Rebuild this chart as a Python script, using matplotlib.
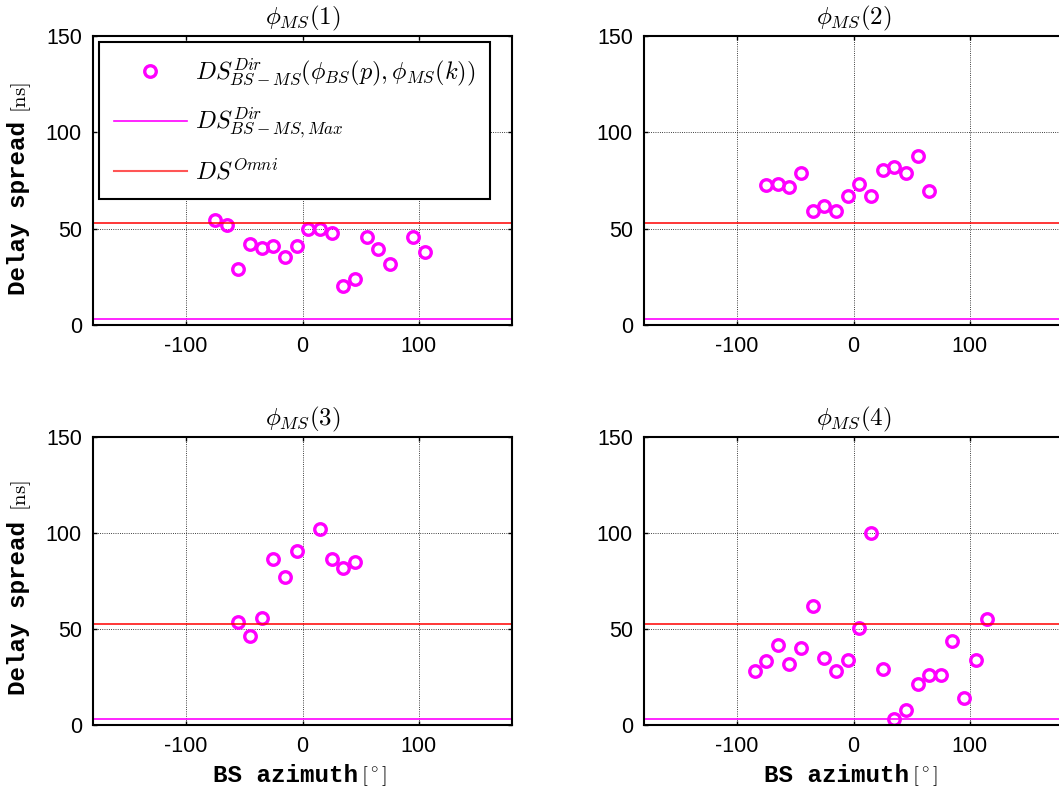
import matplotlib
matplotlib.use("Agg")
import matplotlib.pyplot as plt
from matplotlib.lines import Line2D

plt.rcParams['mathtext.fontset'] = 'cm'
plt.rcParams['axes.unicode_minus'] = False

# ---- data ----
az1 = [-75, -65, -55, -45, -35, -25, -15, -5, 5, 15, 25, 35, 45, 55, 65, 75, 95, 105]
ds1 = [54.5, 52, 29, 42, 40, 41, 35.5, 41, 49.6, 49.6, 48, 20, 23.7, 45.7, 39.4, 31.7, 45.8, 38]

az2 = [-75, -65, -55, -45, -35, -25, -15, -5, 5, 15, 25, 35, 45, 55, 65]
ds2 = [72.5, 73.2, 71.8, 78.7, 59.2, 61.8, 59.2, 67.1, 73.3, 67.1, 80.6, 82, 78.7, 87.5, 69.4]

az3 = [-55, -45, -35, -25, -15, -5, 15, 25, 35, 45]
ds3 = [53.4, 46.3, 55.8, 86.5, 77.1, 90.5, 102.1, 86.5, 81.8, 84.9]

az4 = [-85, -75, -65, -55, -45, -35, -25, -15, -5, 5, 15, 25, 35, 45, 55, 65, 75, 85, 95, 105, 115]
ds4 = [28.2, 33.3, 41.6, 31.6, 39.9, 62, 34.7, 28.2, 33.8, 50.3, 99.8, 29.1, 3.1, 7.8, 21.2,
       25.8, 25.8, 44, 14.2, 33.8, 55]

ds_omni = 52.8
ds_dir_max = 3.3

titles = [r'$\phi_{MS}(1)$', r'$\phi_{MS}(2)$', r'$\phi_{MS}(3)$', r'$\phi_{MS}(4)$']
xticks = [-100, 0, 100]
yticks = [0, 50, 100, 150]

W, H = 1059, 792
fig = plt.figure(figsize=(W / 100, H / 100), dpi=100)

# axes boxes in pixel coords (left, top, right, bottom)
boxes = [(93, 36, 512, 325), (644, 36, 1063, 325),
         (93, 437, 512, 725), (644, 437, 1063, 725)]
data = [(az1, ds1), (az2, ds2), (az3, ds3), (az4, ds4)]

axes = []
for (l, t, r, b), (az, ds), ttl in zip(boxes, data, titles):
    ax = fig.add_axes([l / W, 1 - b / H, (r - l) / W, (b - t) / H])
    axes.append(ax)
    ax.set_xlim(-180, 180)
    ax.set_ylim(0, 150)
    ax.set_xticks(xticks)
    ax.set_yticks(yticks)
    ax.grid(True, color='black', linestyle=':', linewidth=0.6)
    ax.set_axisbelow(True)
    ax.tick_params(direction='in', top=True, right=True, length=3, width=1,
                   labelsize=15.5, pad=8)
    for lab in ax.get_xticklabels() + ax.get_yticklabels():
        lab.set_fontfamily('Liberation Sans')
    for sp in ax.spines.values():
        sp.set_linewidth(1.5)
    ax.plot(az, ds, linestyle='none', marker='o', markersize=8.3,
            markerfacecolor='none', markeredgecolor='magenta', markeredgewidth=2.4)
    ax.axhline(ds_dir_max, color='magenta', linewidth=1.2)
    ax.axhline(ds_omni, color='red', linewidth=1.1)
    ax.set_title(ttl, fontsize=18, pad=8)

# legend
handles = [
    Line2D([], [], linestyle='none', marker='o', markersize=8.3, markerfacecolor='none',
           markeredgecolor='magenta', markeredgewidth=2.4),
    Line2D([], [], color='magenta', linewidth=1.2),
    Line2D([], [], color='#ff5555', linewidth=1.5),
]
labels = [r'$DS^{Dir}_{BS-MS}(\phi_{BS}(p),\phi_{MS}(k))$',
          r'$DS^{Dir}_{BS-MS,Max}$',
          r'$DS^{Omni}$']
leg = axes[0].legend(handles, labels, loc='upper left',
                     bbox_to_anchor=(6 / 419, 1 - 6 / 289), borderaxespad=0,
                     fontsize=17.5, frameon=True, fancybox=False, framealpha=1,
                     edgecolor='black', handlelength=3.0, handletextpad=0.35,
                     labelspacing=0.72, borderpad=0.6)
leg.get_frame().set_linewidth(1.5)

# y labels
for yc_word, yc_unit in [(208, 98), (608, 496)]:
    fig.text(19 / W, 1 - yc_word / H, 'Delay spread', rotation=90, ha='center', va='center',
             fontfamily='Liberation Mono', fontweight='bold', fontsize=17.5)
    fig.text(21 / W, 1 - yc_unit / H, r'$[\mathrm{ns}]$', rotation=90, ha='center',
             va='center', fontsize=15)

# x labels
for xr in [358, 909]:
    fig.text(xr / W, 1 - 776 / H, 'BS azimuth', ha='right', va='center',
             fontfamily='Liberation Mono', fontweight='bold', fontsize=17.5)
    fig.text((xr + 3) / W, 1 - 776 / H, r'$[^\circ]$', ha='left', va='center', fontsize=15)

fig.savefig('out.png', dpi=100)
